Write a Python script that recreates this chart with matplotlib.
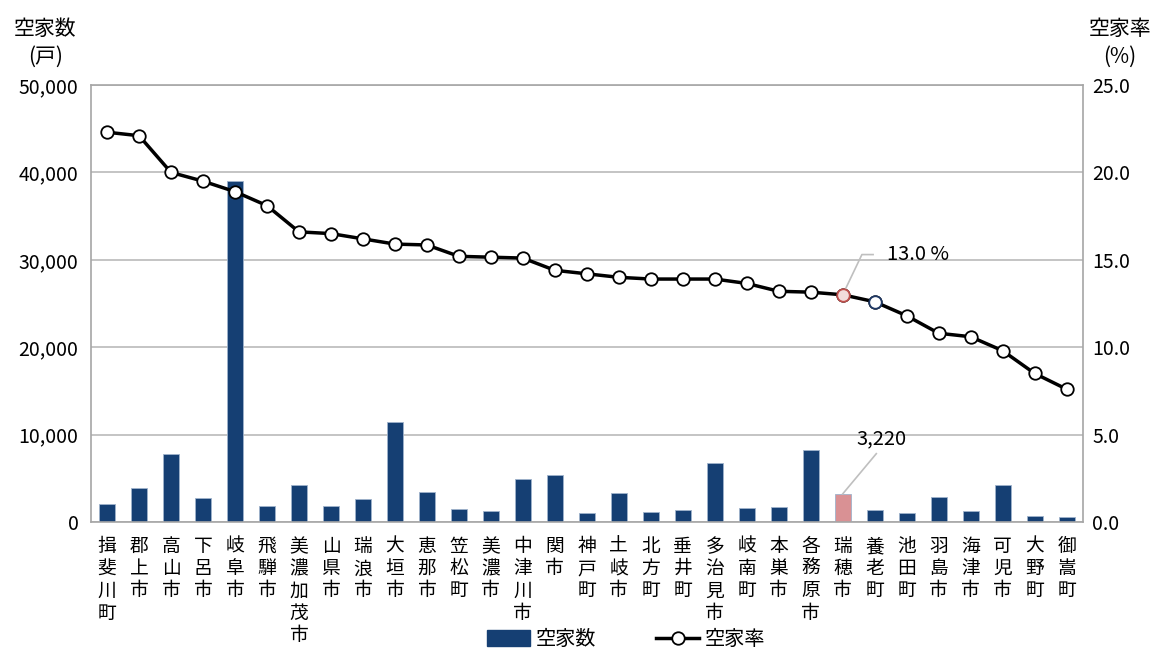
import numpy as np
import matplotlib
matplotlib.use("Agg")
import matplotlib.pyplot as plt
from matplotlib.lines import Line2D
from matplotlib.patches import Patch

plt.rcParams['font.family'] = ['Noto Sans CJK JP', 'DejaVu Sans']

# data
towns = ['揖斐川町', '郡上市', '高山市', '下呂市', '岐阜市', '飛騨市', '美濃加茂市', '山県市',
         '瑞浪市', '大垣市', '恵那市', '笠松町', '美濃市', '中津川市', '関市', '神戸町',
         '土岐市', '北方町', '垂井町', '多治見市', '岐南町', '本巣市', '各務原市', '瑞穂市',
         '養老町', '池田町', '羽島市', '海津市', '可児市', '大野町', '御嵩町']
vacant_count = [2050, 3900, 7750, 2750, 39000, 1800, 4200, 1800,
                2650, 11400, 3400, 1450, 1250, 4950, 5400, 1000,
                3300, 1200, 1400, 6750, 1550, 1700, 8270, 3220,
                1350, 1050, 2900, 1300, 4200, 700, 550]
vacant_rate = [22.3, 22.1, 20.0, 19.5, 18.9, 18.1, 16.6, 16.5,
               16.2, 15.9, 15.85, 15.2, 15.15, 15.1, 14.4, 14.2,
               14.0, 13.9, 13.9, 13.9, 13.65, 13.2, 13.15, 13.0,
               12.6, 11.8, 10.8, 10.6, 9.8, 8.5, 7.6]
left_ticks = [0, 10000, 20000, 30000, 40000, 50000]
right_ticks = [0, 5, 10, 15, 20, 25]

highlight = '瑞穂市'
neighbour = '養老町'

navy = '#153f73'
pink_bar = '#d99194'
grid_c = '#bfbfbf'

fig = plt.figure(figsize=(11.57, 6.48), dpi=100)
ax = fig.add_axes([0.0787, 0.1944, 0.857, 0.6744])
x = np.arange(len(towns))
bar_colors = [pink_bar if t == highlight else navy for t in towns]
ax.bar(x, vacant_count, width=0.5, color=bar_colors, edgecolor='#9fb3cc', linewidth=0.6, zorder=2)
ax.set_ylim(0, 50000)
ax.set_xlim(-0.5, len(towns) - 0.5)
ax.set_yticks(left_ticks)
ax.set_yticklabels([f'{v:,}' for v in left_ticks], fontsize=14)
ax.yaxis.grid(True, color=grid_c, lw=1.3, zorder=0)
ax.set_axisbelow(True)
ax.tick_params(axis='y', length=0, pad=9)
ax.set_xticks(x)
ax.set_xticklabels(['\n'.join(t) for t in towns], fontsize=13.5, va='top', linespacing=1.08)
ax.tick_params(axis='x', length=0, pad=10)
for s in ax.spines.values():
    s.set_color('#a6a6a6')
    s.set_linewidth(1.2)

ax2 = ax.twinx()
ax2.set_ylim(0, 25)
ax2.set_yticks(right_ticks)
ax2.set_yticklabels([f'{v:.1f}' for v in right_ticks], fontsize=14)
ax2.tick_params(axis='y', length=0, pad=7)
for s in ax2.spines.values():
    s.set_visible(False)
ax2.plot(x, vacant_rate, color='black', lw=2.5, marker='o', ms=9,
         mfc='white', mec='black', mew=1.3, zorder=3)
hi = towns.index(highlight)
nb = towns.index(neighbour)
ax2.plot(x[hi], vacant_rate[hi], 'o', ms=9, mfc='#f2dcdb', mec='#c0504d', mew=1.3, zorder=4)
ax2.plot(x[nb], vacant_rate[nb], 'o', ms=9, mfc='white', mec='#1f3864', mew=1.3, zorder=4)

# callouts
ax2.plot([x[hi], x[hi] + 0.6, x[hi] + 0.95], [vacant_rate[hi], vacant_rate[hi] + 2.3, vacant_rate[hi] + 2.3],
         color='#bfbfbf', lw=1.2, zorder=3)
ax2.text(x[hi] + 1.4, vacant_rate[hi] + 2.3, f'{vacant_rate[hi]:.1f} %', fontsize=14.5, va='center', ha='left')
ax.plot([x[hi], x[hi] + 1.05], [vacant_count[hi], vacant_count[hi] + 4600], color='#bfbfbf', lw=1.2, zorder=3)
ax.text(x[hi] + 1.2, vacant_count[hi] + 6300, f'{vacant_count[hi]:,}', fontsize=14.5, va='center', ha='center')

fig.text(0.039, 0.955, '空家数', fontsize=15, ha='center', va='center')
fig.text(0.039, 0.912, '(戸)', fontsize=15, ha='center', va='center')
fig.text(0.968, 0.955, '空家率', fontsize=15, ha='center', va='center')
fig.text(0.968, 0.912, '(%)', fontsize=15, ha='center', va='center')

handles = [Patch(facecolor=navy, edgecolor=navy),
           Line2D([0], [0], color='black', lw=2.5, marker='o', ms=9, mfc='white', mec='black', mew=1.3)]
fig.legend(handles, ['空家数', '空家率'], loc='center', bbox_to_anchor=(0.541, 0.013), ncol=2,
           frameon=False, fontsize=14.5, handlelength=2.15, handleheight=0.8, columnspacing=3.0,
           handletextpad=0.25)

fig.savefig('out.png', dpi=100)
